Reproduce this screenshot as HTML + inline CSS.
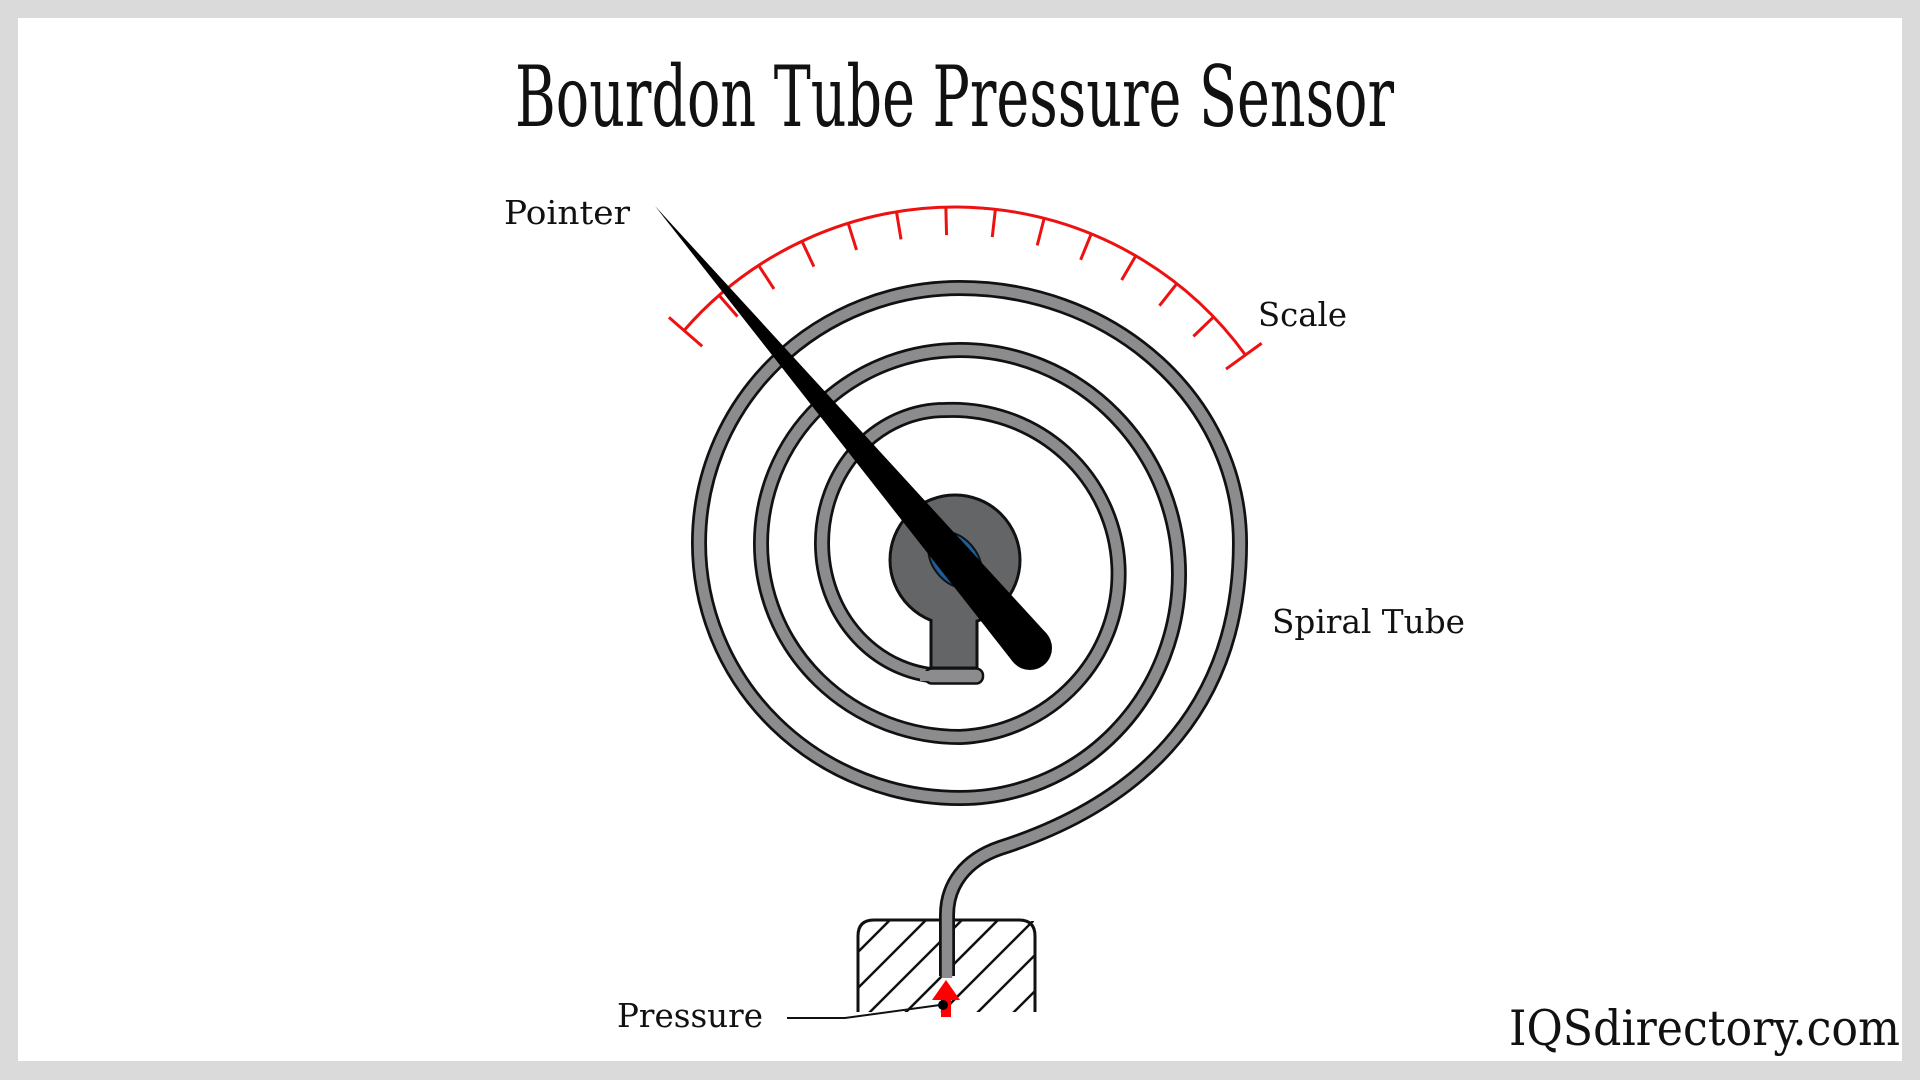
<!DOCTYPE html>
<html><head><meta charset="utf-8"><style>
html,body{margin:0;padding:0;background:#d9d9d9;}
svg{display:block}
</style></head><body>
<svg width="1920" height="1080" viewBox="0 0 1920 1080" xmlns="http://www.w3.org/2000/svg">
<rect x="0" y="0" width="1920" height="1080" fill="#dadada"/>
<rect x="18" y="18" width="1884" height="1043" fill="#ffffff"/>

<text x="515" y="126" font-family="'DejaVu Serif','Liberation Serif',serif" font-size="84" fill="#111" textLength="879" lengthAdjust="spacingAndGlyphs">Bourdon Tube Pressure Sensor</text>

<g font-family="'DejaVu Serif','Liberation Serif',serif" font-size="33" fill="#111">
<text x="504" y="224" textLength="126" lengthAdjust="spacingAndGlyphs">Pointer</text>
<text x="1258" y="326" textLength="89" lengthAdjust="spacingAndGlyphs">Scale</text>
<text x="1272" y="633" textLength="193" lengthAdjust="spacingAndGlyphs">Spiral Tube</text>
<text x="617" y="1027" textLength="146" lengthAdjust="spacingAndGlyphs">Pressure</text>
<text x="1509" y="1045" font-size="49" textLength="391" lengthAdjust="spacingAndGlyphs">IQSdirectory.com</text>
</g>

<!-- scale -->
<g stroke="#ee1111" stroke-width="3" fill="none">
<path id="arc" d=""/>
</g>
<g id="scale" stroke="#ee1111" stroke-width="3" fill="none"></g>

<!-- socket -->
<defs><clipPath id="sc"><rect x="859" y="921" width="175" height="91"/></clipPath></defs>
<g clip-path="url(#sc)" stroke="#111" stroke-width="2.5">
<line x1="790" y1="1020" x2="890" y2="920"/>
<line x1="826" y1="1020" x2="926" y2="920"/>
<line x1="862" y1="1020" x2="962" y2="920"/>
<line x1="898" y1="1020" x2="998" y2="920"/>
<line x1="934" y1="1020" x2="1034" y2="920"/>
<line x1="970" y1="1020" x2="1070" y2="920"/>
<line x1="1006" y1="1020" x2="1106" y2="920"/>
<line x1="1042" y1="1020" x2="1142" y2="920"/>
</g>
<path d="M858 1012 L858 936 Q858 920 874 920 L1019 920 Q1035 920 1035 936 L1035 1012" fill="none" stroke="#111" stroke-width="3"/>

<!-- spiral tube -->
<path d="M945 676 A123 133 0 0 1 945 410 A166 163.5 0 0 1 960 737 A199 193.5 0 0 1 960 350 A219 224 0 0 1 960 798 A261 255 0 0 1 960 288 A280 255 0 0 1 1240 543 C1240 700 1150 800 1000 848 C965 860 947 885 947 915 L947 976" fill="none" stroke="#111" stroke-width="16"/>
<path d="M945 676 A123 133 0 0 1 945 410 A166 163.5 0 0 1 960 737 A199 193.5 0 0 1 960 350 A219 224 0 0 1 960 798 A261 255 0 0 1 960 288 A280 255 0 0 1 1240 543 C1240 700 1150 800 1000 848 C965 860 947 885 947 915 L947 978" fill="none" stroke="#8c8c8f" stroke-width="10.5"/>

<!-- inner tube end -->
<rect x="925" y="668.5" width="58" height="15" rx="7" fill="#8c8c8f" stroke="#111" stroke-width="2.5"/>
<rect x="920" y="671" width="20" height="10" fill="#8c8c8f"/>

<!-- hub -->
<rect x="931" y="600" width="46" height="68" fill="#646567" stroke="#111" stroke-width="3"/>
<circle cx="955" cy="560" r="65" fill="#646567" stroke="#111" stroke-width="3"/>
<rect x="932.5" y="600" width="43" height="66" fill="#646567"/>
<ellipse cx="955" cy="560" rx="32" ry="22" transform="rotate(49.7 955 560)" fill="#1e5d96" stroke="#111" stroke-width="2"/>

<!-- pointer -->
<polygon points="655,206 1046.8,633.8 1013.2,662.2" fill="#000"/>
<circle cx="1030" cy="648" r="22" fill="#000"/>

<!-- pressure arrow, dot, leader -->
<polygon points="946,980 932,1000 941,1000 941,1017 951,1017 951,1000 960,1000" fill="#ff0000"/>
<circle cx="943" cy="1005" r="5" fill="#000"/>
<polyline points="787,1018 845,1018 940,1005" fill="none" stroke="#111" stroke-width="2"/>

<script>
(function(){
 var cx=955,cy=566,R=359,a0=-49,a1=54,n=13,ns="http://www.w3.org/2000/svg";
 function pt(a,r){var t=a*Math.PI/180;return [cx+r*Math.sin(t),cy-r*Math.cos(t)];}
 var p0=pt(a0,R),p1=pt(a1,R);
 document.getElementById('arc').setAttribute('d','M'+p0[0]+' '+p0[1]+' A'+R+' '+R+' 0 0 1 '+p1[0]+' '+p1[1]);
 var g=document.getElementById('scale');
 for(var k=0;k<=n;k++){
  var a=a0+k*(a1-a0)/n,ro=R,ri=R-28;
  if(k==0||k==n){ro=R+20;ri=R-24;}
  var s=pt(a,ro),e=pt(a,ri),l=document.createElementNS(ns,'line');
  l.setAttribute('x1',s[0]);l.setAttribute('y1',s[1]);l.setAttribute('x2',e[0]);l.setAttribute('y2',e[1]);
  g.appendChild(l);
 }
})();
</script>
</svg>
</body></html>
